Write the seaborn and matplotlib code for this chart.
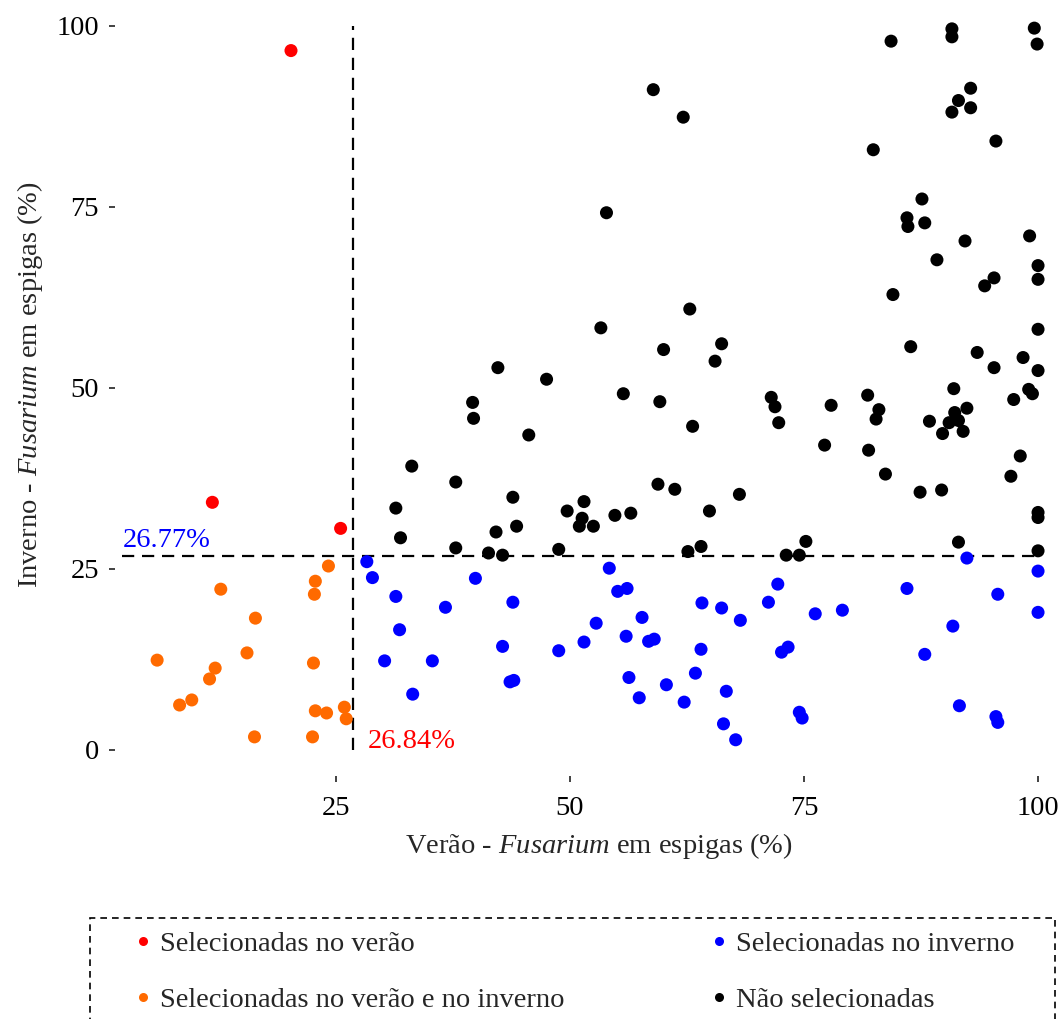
import matplotlib
matplotlib.use("Agg")
import matplotlib.pyplot as plt
from matplotlib.lines import Line2D
from matplotlib.patches import Rectangle
import pandas as pd
import seaborn as sns

# limiares de seleção (%)
lim_verao = 26.84
lim_inverno = 26.77

# Selecionadas no verão
verao_x = [20.2, 11.8, 25.5]
verao_y = [96.6, 34.2, 30.6]

# Selecionadas no verão e no inverno
ambos_x = [24.2, 22.8, 22.7, 12.7, 16.4, 15.5, 5.9, 22.6, 12.1, 11.5,
           9.6, 8.3, 22.8, 24.0, 25.9, 26.1, 16.3, 22.5]
ambos_y = [25.4, 23.3, 21.5, 22.2, 18.2, 13.4, 12.4, 12.0, 11.3, 9.8,
           6.9, 6.2, 5.4, 5.1, 5.9, 4.3, 1.8, 1.8]

# Selecionadas no inverno
inverno_x = [28.3, 28.9, 31.4, 31.8, 30.2, 33.2, 39.9, 36.7, 43.9, 35.3,
             42.8, 43.6, 44.0, 48.8, 51.5, 52.8, 54.2, 55.1, 56.1, 57.7,
             56.0, 58.4, 59.0, 56.3, 57.4, 60.3, 62.2, 63.4, 64.0, 64.1,
             66.2, 66.7, 66.4, 68.2, 67.7, 72.2, 71.2, 76.2, 79.1, 73.3,
             72.6, 74.5, 74.8, 86.0, 90.9, 87.9, 92.4, 95.7, 100.0, 100.0,
             91.6, 95.5, 95.7]
inverno_y = [26.0, 23.8, 21.2, 16.6, 12.3, 7.7, 23.7, 19.7, 20.4, 12.3,
             14.3, 9.4, 9.6, 13.7, 14.9, 17.5, 25.1, 21.9, 22.3, 18.3,
             15.7, 15.0, 15.3, 10.0, 7.2, 9.0, 6.6, 10.6, 13.9, 20.3,
             19.6, 8.1, 3.6, 17.9, 1.4, 22.9, 20.4, 18.8, 19.3, 14.2,
             13.5, 5.2, 4.4, 22.3, 17.1, 13.2, 26.5, 21.5, 24.7, 19.0,
             6.1, 4.6, 3.8]

# Não selecionadas
nao_x = [58.9, 62.1, 53.9, 84.3, 90.8, 90.8, 99.6, 99.9, 92.8, 91.5,
         90.8, 92.8, 95.5, 82.4, 87.6, 86.0, 86.1, 87.9, 99.1, 92.2,
         89.2, 100.0, 100.0, 95.3, 94.3, 84.5, 100.0, 86.4, 93.5, 98.4,
         95.3, 100.0, 66.2, 65.5, 91.0, 99.0, 99.4, 97.4, 71.5, 71.9,
         81.8, 77.9, 83.0, 82.7, 72.3, 92.4, 91.1, 88.4, 90.5, 91.5,
         89.8, 92.0, 77.2, 81.9, 98.1, 83.7, 97.1, 87.4, 89.7, 68.1,
         62.8, 53.3, 60.0, 42.3, 47.5, 55.7, 59.6, 63.1, 39.6, 39.7,
         45.6, 33.1, 37.8, 43.9, 59.4, 61.2, 51.5, 31.4, 31.9, 37.8,
         42.1, 44.3, 41.3, 42.8, 49.7, 51.3, 51.0, 52.5, 48.8, 54.8,
         56.5, 64.9, 64.0, 62.6, 75.2, 73.1, 74.5, 91.5, 100.0, 100.0,
         100.0]
nao_y = [91.2, 87.4, 74.2, 97.9, 99.6, 98.5, 99.7, 97.5, 91.4, 89.7,
         88.1, 88.7, 84.1, 82.9, 76.1, 73.5, 72.3, 72.8, 71.0, 70.3,
         67.7, 66.9, 65.0, 65.2, 64.1, 62.9, 58.1, 55.7, 54.9, 54.2,
         52.8, 52.4, 56.1, 53.7, 49.9, 49.8, 49.2, 48.4, 48.7, 47.4,
         49.0, 47.6, 47.0, 45.7, 45.2, 47.2, 46.6, 45.4, 45.2, 45.5,
         43.7, 44.0, 42.1, 41.4, 40.6, 38.1, 37.8, 35.6, 35.9, 35.3,
         60.9, 58.3, 55.3, 52.8, 51.2, 49.2, 48.1, 44.7, 48.0, 45.8,
         43.5, 39.2, 37.0, 34.9, 36.7, 36.0, 34.3, 33.4, 29.3, 27.9,
         30.1, 30.9, 27.2, 26.9, 33.0, 32.0, 30.9, 30.9, 27.7, 32.4,
         32.7, 33.0, 28.1, 27.4, 28.8, 26.9, 26.9, 28.7, 32.8, 32.1,
         27.5]

grupos = ["Selecionadas no verão", "Selecionadas no verão e no inverno",
          "Selecionadas no inverno", "Não selecionadas"]
cores = ["#FF0000", "#FF6A00", "#0000FF", "#000000"]

df = pd.concat([
    pd.DataFrame({"verao": verao_x, "inverno": verao_y, "grupo": grupos[0]}),
    pd.DataFrame({"verao": ambos_x, "inverno": ambos_y, "grupo": grupos[1]}),
    pd.DataFrame({"verao": inverno_x, "inverno": inverno_y, "grupo": grupos[2]}),
    pd.DataFrame({"verao": nao_x, "inverno": nao_y, "grupo": grupos[3]}),
], ignore_index=True)

sns.set_style("white")
plt.rcParams["font.family"] = ["Liberation Serif", "DejaVu Serif"]
plt.rcParams["mathtext.fontset"] = "custom"
plt.rcParams["mathtext.rm"] = "Liberation Serif"
plt.rcParams["mathtext.it"] = "Liberation Serif:italic"

fs = 20.5
W, H = 1060, 1019

fig = plt.figure(figsize=(W / 100, H / 100), dpi=100)
ax = fig.add_axes([115 / W, 0.2385, 0.9123, 0.7687])

sns.scatterplot(data=df, x="verao", y="inverno", hue="grupo",
                hue_order=grupos, palette=dict(zip(grupos, cores)),
                s=88, linewidth=0, legend=False, ax=ax, zorder=3)

# linhas de corte
ax.plot([lim_verao, lim_verao], [0, 100], color="black", lw=1.6,
        linestyle=(0, (5.5, 3.5)), zorder=2)
ax.plot([2.2, 100], [lim_inverno, lim_inverno], color="black", lw=1.6,
        linestyle=(0, (5.5, 3.5)), zorder=2)
ax.text(2.2, lim_inverno + 0.4, f"{lim_inverno:.2f}%", color="#0000FF",
        fontsize=fs, ha="left", va="bottom")
ax.text(28.4, 1.2, f"{lim_verao:.2f}%", color="#FF0000",
        fontsize=fs, ha="left", va="center")

ax.set_xlim(1.4, 104.7)
ax.set_ylim(-3.6, 104.6)
ax.set_xticks([25, 50, 75, 100])
ax.set_yticks([0, 25, 50, 75, 100])
ax.tick_params(axis="both", labelsize=fs, length=4.5, width=1.3,
               color="#333333", labelcolor="black", direction="out",
               left=True, bottom=True)
ax.tick_params(axis="x", pad=10)
ax.tick_params(axis="y", pad=7)
for s in ax.spines.values():
    s.set_visible(False)
ax.grid(False)

ax.set_xlabel("Verão - $\\mathit{Fusarium}$ em espigas (%)", fontsize=fs,
              labelpad=7)
ax.set_ylabel("Inverno - $\\mathit{Fusarium}$ em espigas (%)", fontsize=fs,
              labelpad=8)

# legenda (moldura tracejada cortada na base da figura)
fig.add_artist(Rectangle((90 / W, -0.05), 965 / W, (H - 918) / H + 0.05,
                         transform=fig.transFigure, fill=False,
                         edgecolor="black", linewidth=1.2,
                         linestyle=(0, (4, 3))))
handles = [Line2D([0], [0], marker="o", linestyle="", markersize=6.5,
                  markerfacecolor=c, markeredgewidth=0) for c in cores]
fig.legend(handles, grupos, ncol=2, mode="expand", loc="upper left",
           bbox_to_anchor=(131.5 / W, 1 - 932 / H, (1015 - 131.5) / W, 0.001),
           fontsize=fs, frameon=False, handlelength=0.8, handletextpad=0.2,
           labelspacing=1.05, borderpad=0, borderaxespad=0)

plt.savefig("out.png", dpi=100)
plt.close()
